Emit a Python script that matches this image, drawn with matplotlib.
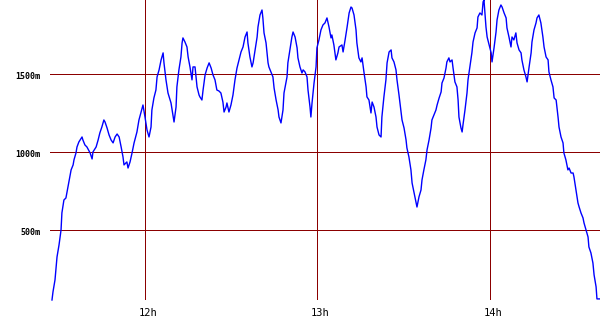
import matplotlib
matplotlib.use("Agg")
import matplotlib.pyplot as plt
import matplotlib.transforms as mtransforms

# time in minutes after 11:00, elevation in metres
minutes = [27.65, 28.0, 28.7, 29.4, 30.1, 30.8, 31.1, 31.8, 32.5, 33.2, 33.6, 34.3, 35.0, 35.3, 36.0,
           36.35, 37.0, 38.1, 38.4, 39.1, 39.8, 40.9, 41.6, 41.9, 43.0, 43.7, 44.3, 45.0, 45.7, 46.1,
           46.8, 47.5, 48.2, 48.9, 49.6, 50.3, 51.0, 51.7, 52.35, 52.7, 53.7, 54.1, 54.8, 55.5, 56.2,
           57.2, 57.9, 59.0, 59.3, 60.0, 60.7, 61.4, 62.1, 62.4, 63.1, 63.8, 64.2, 64.9, 65.6, 66.3,
           66.6, 67.3, 68.0, 69.05, 69.7, 70.1, 70.8, 71.1, 71.8, 72.5, 72.9, 73.2, 73.9, 74.6, 75.0,
           75.65, 76.35, 76.7, 77.4, 78.1, 78.8, 79.1, 79.8, 80.2, 80.9, 81.6, 82.3, 83.0, 83.65, 84.35,
           85.0, 85.7, 86.4, 87.1, 87.5, 88.2, 88.5, 89.2, 89.9, 90.6, 91.3, 92.0, 92.7, 93.4, 94.1,
           94.8, 95.5, 95.8, 96.5, 97.2, 97.6, 98.3, 99.0, 99.3, 100.0, 100.7, 101.0, 101.4, 102.1, 102.8,
           103.1, 103.8, 104.5, 104.9, 105.6, 106.3, 106.6, 107.3, 108.0, 108.35, 109.4, 109.7, 110.4, 111.1, 111.5,
           112.2, 112.9, 113.2, 113.9, 114.6, 115.0, 115.65, 116.35, 116.7, 117.4, 117.7, 118.1, 118.8, 119.5, 119.8,
           120.5, 121.2, 121.9, 122.6, 123.3, 124.0, 124.7, 125.0, 125.7, 126.4, 127.1, 127.5, 128.5, 128.9, 129.6,
           130.3, 131.0, 131.65, 132.0, 132.7, 133.4, 133.7, 134.4, 135.1, 135.5, 136.2, 136.9, 137.2, 137.9, 138.6,
           139.0, 139.65, 140.35, 140.7, 141.4, 142.1, 142.4, 143.1, 143.8, 144.2, 144.9, 145.6, 145.9, 146.6, 147.3,
           147.65, 148.35, 149.0, 149.4, 150.1, 150.8, 151.1, 151.8, 152.5, 152.9, 153.6, 154.3, 154.6, 155.3, 156.0,
           156.35, 157.0, 157.7, 158.1, 158.8, 159.5, 159.8, 160.5, 161.2, 161.6, 162.3, 163.0, 163.3, 164.0, 164.7,
           165.0, 165.7, 166.1, 166.8, 167.1, 167.8, 168.5, 168.9, 169.2, 169.9, 170.3, 170.6, 171.3, 172.0, 172.35,
           173.0, 173.7, 174.1, 174.8, 175.5, 175.8, 176.5, 177.2, 177.6, 177.9, 178.6, 179.0, 179.7, 180.4, 180.7,
           181.4, 182.1, 182.45, 183.1, 183.8, 184.2, 184.9, 185.6, 185.9, 186.6, 187.3, 187.65, 188.3, 189.0, 189.4,
           190.1, 190.8, 191.1, 191.8, 192.5, 192.9, 193.6, 194.3, 194.6, 195.3, 196.0, 196.35, 197.0, 197.7, 198.4,
           198.8, 199.5, 200.2, 200.5, 201.2, 201.9, 202.3, 203.0, 203.7, 204.0, 204.7, 205.4, 205.7, 206.4, 207.1,
           207.5, 208.2, 208.9, 209.2, 209.9, 210.6, 211.0, 211.65, 212.35, 212.7, 213.4, 214.1, 214.4, 215.1, 215.8,
           216.2, 216.9, 217.2, 218.3]

elevation = [51, 103, 180, 327, 404, 500, 609, 692, 705, 776, 820, 885, 917, 949, 994,
             1032, 1064, 1096, 1077, 1045, 1032, 994, 955, 1000, 1032, 1077, 1122, 1160, 1205, 1192,
             1154, 1109, 1077, 1058, 1096, 1115, 1096, 1032, 968, 917, 936, 897, 936, 994, 1058,
             1128, 1205, 1282, 1301, 1224, 1141, 1096, 1160, 1269, 1346, 1397, 1481, 1526, 1590, 1635,
             1571, 1462, 1378, 1314, 1237, 1192, 1288, 1417, 1526, 1609, 1699, 1731, 1705, 1673, 1609,
             1545, 1462, 1545, 1545, 1417, 1365, 1353, 1333, 1397, 1494, 1538, 1571, 1538, 1494, 1462,
             1397, 1391, 1378, 1320, 1256, 1288, 1314, 1256, 1301, 1365, 1462, 1538, 1590, 1641, 1673,
             1737, 1769, 1699, 1609, 1545, 1571, 1654, 1737, 1801, 1878, 1910, 1859, 1763, 1699, 1571,
             1545, 1513, 1481, 1410, 1333, 1269, 1224, 1186, 1269, 1378, 1481, 1571, 1654, 1737, 1769,
             1737, 1667, 1603, 1545, 1506, 1526, 1513, 1481, 1397, 1288, 1224, 1314, 1442, 1545, 1667,
             1718, 1782, 1814, 1827, 1859, 1801, 1731, 1750, 1686, 1590, 1635, 1673, 1686, 1641, 1718,
             1801, 1891, 1929, 1923, 1878, 1782, 1699, 1603, 1577, 1603, 1506, 1417, 1353, 1333, 1250,
             1320, 1288, 1224, 1160, 1109, 1096, 1224, 1353, 1462, 1571, 1641, 1654, 1603, 1577, 1526,
             1462, 1365, 1269, 1205, 1154, 1077, 1026, 968, 885, 801, 737, 673, 647, 712, 756,
             821, 885, 949, 1013, 1077, 1154, 1205, 1237, 1269, 1301, 1346, 1385, 1442, 1474, 1538,
             1577, 1603, 1577, 1590, 1545, 1449, 1417, 1333, 1224, 1154, 1128, 1173, 1269, 1378, 1462,
             1545, 1635, 1705, 1763, 1795, 1865, 1891, 1878, 1962, 1974, 1801, 1737, 1686, 1635, 1577,
             1667, 1769, 1846, 1910, 1942, 1929, 1891, 1859, 1795, 1737, 1673, 1737, 1718, 1763, 1699,
             1654, 1635, 1590, 1526, 1481, 1449, 1545, 1635, 1705, 1782, 1827, 1859, 1878, 1827, 1737,
             1673, 1609, 1590, 1513, 1462, 1417, 1346, 1333, 1218, 1160, 1096, 1058, 994, 949, 885,
             897, 865, 865, 840, 756, 673, 647, 609, 577, 545, 500, 455, 391, 353, 288,
             212, 135, 58, 58]

hour_ticks = [60, 120, 180]
hour_labels = ["12h", "13h", "14h"]
elev_ticks = [500, 1000, 1500]
elev_labels = ["500m", "1000m", "1500m"]

W, H = 600, 330
fig = plt.figure(figsize=(W / 100, H / 100), dpi=100)
fig.patch.set_facecolor("white")
ax = fig.add_axes([50 / W, 30 / H, 550 / W, 300 / H])
ax.set_xlim(26.96, 218.26)
ax.set_ylim(51, 1974)
for s in ax.spines.values():
    s.set_visible(False)
ax.set_xticks([])
ax.set_yticks([])

grid_color = "#8b0000"
for v in elev_ticks:
    ax.axhline(v, color=grid_color, lw=0.72, zorder=1, antialiased=False)
for t in hour_ticks:
    ax.axvline(t, color=grid_color, lw=0.72, zorder=1, antialiased=False)

ax.plot(minutes, elevation, color="#0000ff", lw=1.0, zorder=3, clip_on=False)

ylab_tr = mtransforms.blended_transform_factory(fig.transFigure, ax.transData)
ylab_off = mtransforms.ScaledTranslation(0, -3 / 100, fig.dpi_scale_trans)
for v, lab in zip(elev_ticks, elev_labels):
    ax.text(40 / W, v, lab, transform=ylab_tr + ylab_off, ha="right", va="center",
            fontsize=6, family="DejaVu Sans Mono", fontweight="bold", color="black")

xlab_tr = mtransforms.blended_transform_factory(ax.transData, fig.transFigure)
xlab_off = mtransforms.ScaledTranslation(3 / 100, 0, fig.dpi_scale_trans)
for t, lab in zip(hour_ticks, hour_labels):
    ax.text(t, (H - 313) / H, lab, transform=xlab_tr + xlab_off, ha="center", va="center",
            fontsize=7.5, family="DejaVu Sans Mono", color="black")

fig.savefig("out.png", dpi=100, facecolor="white")
